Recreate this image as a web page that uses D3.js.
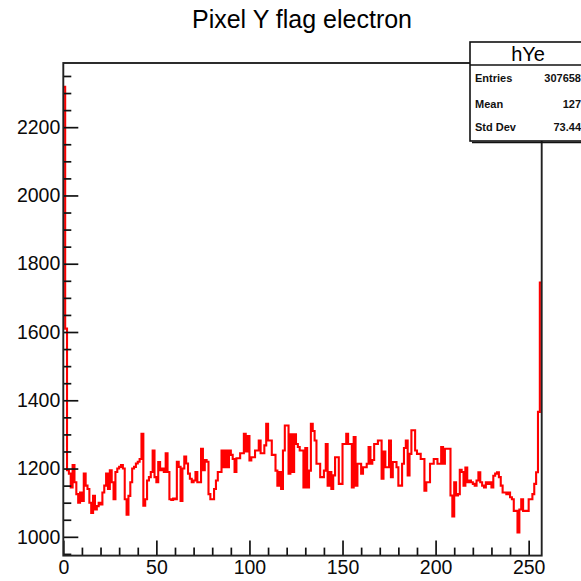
<!DOCTYPE html>
<html>
<head>
<meta charset="utf-8">
<script src="https://cdn.jsdelivr.net/npm/d3@7"></script>
<style>
  html, body { margin: 0; padding: 0; background: #fff; }
  svg { display: block; }
  text { font-family: "Liberation Sans", Arial, Helvetica, sans-serif; }
</style>
</head>
<body>
<svg id="chart" width="581" height="581"></svg>
<script>
// ---- data ----
const chartTitle = "Pixel Y flag electron";
const histName = "hYe";
const binLow = 0;
const binHigh = 257;
const binContents = [
  2318, 1610,
  1195, 1185, 1145, 1210, 1160, 1125, 1100, 1130, 1105, 1185,
  1150, 1140, 1100, 1070, 1120, 1080, 1090, 1100, 1095, 1130,
  1150, 1185, 1140, 1195, 1160, 1110, 1190, 1200, 1205, 1210,
  1200, 1110, 1065, 1120, 1160, 1200, 1205, 1215, 1220, 1228,
  1302, 1091, 1110, 1165, 1175, 1190, 1253, 1175, 1160, 1219,
  1195, 1200, 1190, 1245, 1190, 1110, 1108, 1112, 1110, 1220,
  1205, 1105, 1200, 1235, 1215, 1185, 1170, 1160, 1165, 1190,
  1160, 1160, 1258, 1195, 1225, 1220, 1125, 1110, 1110, 1140,
  1165, 1190,
  1190, 1253, 1204, 1253, 1204, 1253, 1240, 1228, 1190, 1230,
  1230, 1245, 1245, 1302, 1250, 1295, 1224, 1233, 1233, 1253,
  1253, 1282, 1245, 1245, 1268, 1331, 1282, 1282, 1240, 1240,
  1194, 1150, 1190, 1140, 1253, 1326, 1326, 1185, 1300, 1190,
  1300,
  1272, 1263, 1253, 1253, 1145, 1260, 1145, 1194, 1331, 1310,
  1282, 1214, 1214, 1175, 1175, 1194, 1272, 1150, 1190, 1140,
  1180, 1233, 1233, 1155, 1155, 1272, 1272, 1302, 1272, 1272,
  1145, 1292, 1150, 1214, 1214, 1185, 1204, 1204, 1214, 1263,
  1214, 1225, 1272, 1272, 1282, 1282, 1170, 1250, 1204, 1204,
  1282, 1175, 1219, 1219, 1204, 1150, 1150, 1214, 1260, 1282,
  1180, 1243, 1312, 1312, 1253, 1243, 1243, 1228, 1228, 1135,
  1160, 1160, 1214, 1214, 1228, 1228, 1214, 1214, 1263, 1214,
  1258, 1258,
  1258, 1121, 1060, 1160, 1121, 1125, 1196, 1190, 1150, 1203,
  1160, 1165, 1160, 1155, 1150, 1165, 1189, 1160, 1150, 1145,
  1160, 1155, 1160, 1145, 1179, 1185, 1189, 1175, 1150, 1130,
  1130, 1125, 1130, 1116, 1110, 1076, 1076, 1013, 1080, 1110,
  1076, 1076, 1076, 1110, 1110, 1125, 1155, 1189, 1366, 1745
];
const yDomain = [945, 2388];
const xTickValues = [0, 50, 100, 150, 200, 250];
const yTickValues = [1000, 1200, 1400, 1600, 1800, 2000, 2200];
const statLabels = ["Entries", "Mean", "Std Dev"];
const statValues = ["307658", "127", "73.44"];

// ---- layout ----
const frame = { left: 63.3, right: 541.7, top: 63, bottom: 555.6 };
const svg = d3.select("#chart");

const x = d3.scaleLinear().domain([binLow, binHigh]).range([frame.left, frame.right]);
const y = d3.scaleLinear().domain(yDomain).range([frame.bottom, frame.top]);

// title
svg.append("text")
  .attr("x", 302).attr("y", 28)
  .attr("text-anchor", "middle")
  .attr("font-size", 25)
  .attr("fill", "#000")
  .text(chartTitle);

// histogram step line
const pts = binContents.map((v, i) => [i, v]);
pts.push([binContents.length, binContents[binContents.length - 1]]);
const line = d3.line()
  .x(d => x(d[0]))
  .y(d => y(d[1]))
  .curve(d3.curveStepAfter);

svg.append("path")
  .datum(pts)
  .attr("d", line)
  .attr("fill", "none")
  .attr("stroke", "#ff0000")
  .attr("stroke-width", 2.1)
  .attr("stroke-linejoin", "miter");

// minor ticks
const yMinor = d3.range(950, 2388, 50).filter(v => !yTickValues.includes(v));
const xMinor = d3.range(0, 258, 10).filter(v => !xTickValues.includes(v));

const yAxisMinor = svg.append("g")
  .attr("transform", `translate(${frame.left},0)`)
  .call(d3.axisLeft(y).tickValues(yMinor).tickSize(-8).tickFormat(""));
const xAxisMinor = svg.append("g")
  .attr("transform", `translate(0,${frame.bottom})`)
  .call(d3.axisBottom(x).tickValues(xMinor).tickSize(-8).tickFormat(""));

const yAxis = svg.append("g")
  .attr("transform", `translate(${frame.left},0)`)
  .call(d3.axisLeft(y).tickValues(yTickValues).tickSize(-15).tickPadding(3).tickFormat(d3.format("d")));
const xAxis = svg.append("g")
  .attr("transform", `translate(0,${frame.bottom})`)
  .call(d3.axisBottom(x).tickValues(xTickValues).tickSize(-15).tickPadding(5).tickFormat(d3.format("d")));

[yAxisMinor, xAxisMinor, yAxis, xAxis].forEach(g => {
  g.select(".domain").remove();
  g.selectAll(".tick line").attr("stroke", "#111").attr("stroke-width", 1.7);
  g.selectAll("text")
    .attr("font-size", 19.5)
    .attr("fill", "#0a0a0a")
    .attr("font-family", "'Liberation Sans', Arial, sans-serif");
});

// frame
svg.append("rect")
  .attr("x", frame.left).attr("y", frame.top)
  .attr("width", frame.right - frame.left)
  .attr("height", frame.bottom - frame.top)
  .attr("fill", "none")
  .attr("stroke", "#222")
  .attr("stroke-width", 1.9);

// stats box
const box = { left: 470, top: 42, right: 588, bottom: 141, sep: 65 };
svg.append("rect")
  .attr("x", box.left).attr("y", box.top)
  .attr("width", box.right - box.left).attr("height", box.bottom - box.top)
  .attr("fill", "#fff").attr("stroke", "#111").attr("stroke-width", 1.6);
svg.append("line")
  .attr("x1", box.left + 2).attr("x2", box.right + 2)
  .attr("y1", box.bottom + 1.5).attr("y2", box.bottom + 1.5)
  .attr("stroke", "#111").attr("stroke-width", 1.5);
svg.append("line")
  .attr("x1", box.left).attr("x2", box.right)
  .attr("y1", box.sep).attr("y2", box.sep)
  .attr("stroke", "#111").attr("stroke-width", 1.4);
svg.append("text")
  .attr("x", 528).attr("y", 61)
  .attr("text-anchor", "middle")
  .attr("font-size", 20)
  .attr("fill", "#000")
  .text(histName);

const rowY = [82, 108, 131];
statLabels.forEach((lab, i) => {
  svg.append("text")
    .attr("x", 475).attr("y", rowY[i])
    .attr("font-size", 11).attr("font-weight", "bold")
    .attr("fill", "#111")
    .text(lab);
  svg.append("text")
    .attr("x", 581).attr("y", rowY[i])
    .attr("text-anchor", "end")
    .attr("font-size", 11).attr("font-weight", "bold")
    .attr("fill", "#111")
    .text(statValues[i]);
});
</script>
</body>
</html>
